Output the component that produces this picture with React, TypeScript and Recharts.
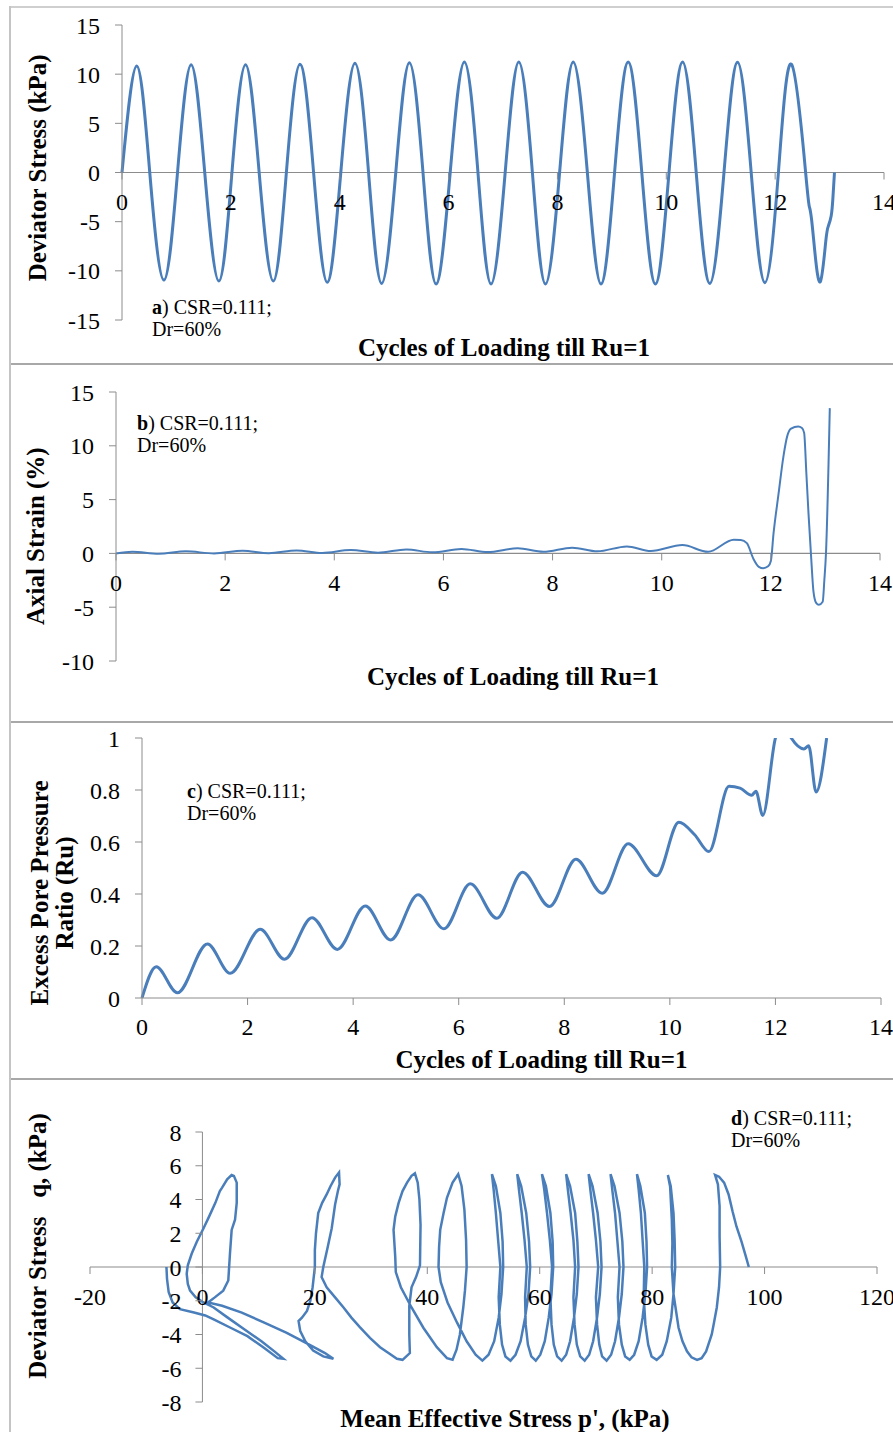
import React from 'react';
import { LineChart, Line, XAxis, YAxis, ReferenceLine, ReferenceDot } from 'recharts';

const FONT = '"Liberation Serif", "Times New Roman", serif';
const BLUE = '#4a7ebb';
const AXIS = '#8c8c8c';

// ---------- shared ticks ----------
const CYCLE_TICKS = [0, 2, 4, 6, 8, 10, 12, 14];
const A_Y_TICKS = [-15, -10, -5, 0, 5, 10, 15];
const B_Y_TICKS = [-10, -5, 0, 5, 10, 15];
const C_Y_TICKS = [0, 0.2, 0.4, 0.6, 0.8, 1];
const D_X_TICKS = [-20, 0, 20, 40, 60, 80, 100, 120];
const D_Y_TICKS = [-8, -6, -4, -2, 0, 2, 4, 6, 8];

// ---------- a) deviator stress vs cycles ----------
const A_CYCLES = [0, 0.27, 0.51, 0.77, 1.02, 1.27, 1.52, 1.78, 2.02, 2.27, 2.52, 2.78, 3.02, 3.27, 3.52, 3.77, 4.02, 4.28, 4.53, 4.77, 5.03, 5.28, 5.53, 5.77, 6.03, 6.29, 6.54, 6.78, 7.04, 7.29, 7.54, 7.78, 8.04, 8.29, 8.55, 8.8, 9.05, 9.3, 9.55, 9.8, 10.05, 10.3, 10.55, 10.8, 11.06, 11.31, 11.56, 11.81, 12.06, 12.3, 12.56, 12.63, 12.67, 12.73, 12.83, 12.93, 12.98, 13.03, 13.06, 13.09];
const A_DEVIATOR = [0, 10.84, 0, -10.94, 0, 10.97, 0, -11.04, 0, 10.97, 0, -11.04, 0, 11.0, 0, -11.17, 0, 11.1, 0, -11.28, 0, 11.17, 0, -11.34, 0, 11.24, 0, -11.34, 0, 11.24, 0, -11.34, 0, 11.24, 0, -11.34, 0, 11.24, 0, -11.34, 0, 11.24, 0, -11.28, 0, 11.2, 0, -11.2, 0, 11.0, 0, -3.5, -4.8, -8.1, -11.1, -7.0, -5.4, -4.4, -2.7, 0];

// ---------- b) axial strain vs cycles ----------
const B_CYCLES = [0, 0.3, 0.78, 1.28, 1.8, 2.32, 2.8, 3.31, 3.78, 4.3, 4.8, 5.32, 5.8, 6.33, 6.81, 7.36, 7.83, 8.36, 8.82, 9.36, 9.8, 10.38, 10.85, 11.32, 11.45, 11.56, 11.68, 11.78, 11.86, 11.95, 12.0, 12.05, 12.14, 12.23, 12.3, 12.37, 12.5, 12.57, 12.61, 12.65, 12.69, 12.74, 12.78, 12.83, 12.88, 12.95, 12.98, 13.01, 13.08];
const B_STRAIN = [0, 0.15, -0.03, 0.19, 0.0, 0.24, 0.02, 0.28, 0.04, 0.31, 0.07, 0.37, 0.1, 0.41, 0.12, 0.47, 0.15, 0.53, 0.19, 0.65, 0.22, 0.77, 0.15, 1.27, 1.25, 0.95, -0.5, -1.25, -1.38, -1.2, -0.7, 1.9, 5.5, 9.0, 10.9, 11.6, 11.8, 11.65, 11.2, 7.5, 3.7, -0.5, -3.5, -4.6, -4.78, -4.5, -2.5, 0, 13.5];

// ---------- c) excess pore pressure ratio vs cycles ----------
const C_CYCLES = [0, 0.27, 0.67, 1.24, 1.67, 2.24, 2.7, 3.22, 3.7, 4.23, 4.71, 5.23, 5.72, 6.22, 6.72, 7.21, 7.72, 8.22, 8.72, 9.21, 9.75, 10.17, 10.47, 10.74, 11.12, 11.33, 11.55, 11.63, 11.76, 12.0, 12.15, 12.3, 12.54, 12.63, 12.77, 12.97];
const C_RU = [0, 0.12, 0.02, 0.208, 0.095, 0.264, 0.149, 0.309, 0.187, 0.354, 0.223, 0.397, 0.266, 0.439, 0.307, 0.484, 0.352, 0.534, 0.403, 0.593, 0.47, 0.676, 0.628, 0.563, 0.814, 0.807, 0.78, 0.795, 0.702, 1.0, 1.06, 1.0, 0.958, 0.97, 0.792, 1.0];

// ---------- d) stress path q vs p' (in time order) ----------
const D_MEAN_P = [
  97.2, 96.6, 95.9, 95.0, 94.3, 93.6, 92.8, 91.9, 91.2,
  91.7, 92.0, 92.0, 92.1, 91.9, 91.5, 91.0, 90.6, 89.6, 88.8, 88.0, 87.0, 86.2, 85.4, 84.7, 83.8, 83.5, 83.6, 83.5, 83.2, 82.8,
  83.3, 83.8, 84.0, 84.1, 83.8, 83.4, 82.6, 81.8, 80.8, 79.9, 79.3, 78.8, 78.5, 78.6, 78.3, 78.0, 77.6, 77.3,
  77.9, 78.7, 79.0, 79.1, 78.8, 78.3, 77.6, 76.8, 76.0, 75.2, 74.6, 74.1, 73.9, 74.2, 73.8, 73.4, 72.9, 72.6,
  73.3, 74.2, 74.7, 74.9, 74.6, 74.1, 73.4, 72.7, 71.9, 71.1, 70.6, 70.2, 70.0, 70.4, 70.0, 69.5, 69.0, 68.7,
  69.4, 70.3, 70.8, 71.0, 70.7, 70.2, 69.5, 68.8, 68.0, 67.2, 66.6, 66.2, 66.0, 66.3, 66.0, 65.5, 65.0, 64.7,
  65.4, 66.3, 66.7, 66.9, 66.6, 66.1, 65.4, 64.7, 63.9, 63.1, 62.5, 62.1, 61.9, 62.2, 61.8, 61.3, 60.8, 60.4,
  61.1, 61.9, 62.3, 62.4, 62.1, 61.6, 60.9, 60.1, 59.3, 58.5, 57.9, 57.5, 57.4, 57.7, 57.3, 56.8, 56.3, 56.0,
  56.7, 57.6, 58.1, 58.3, 58.0, 57.4, 56.6, 55.7, 54.8, 53.9, 53.3, 52.9, 52.7, 53.0, 52.6, 52.2, 51.8, 51.5,
  52.2, 53.0, 53.4, 53.5, 53.2, 52.7, 51.9, 50.9, 49.8, 48.6, 47.0, 45.3, 43.6, 42.4, 42.0, 42.1, 42.3, 42.9, 43.5, 44.5, 45.5,
  46.1, 46.6, 46.9, 47.0, 46.7, 46.4, 45.8, 45.2, 44.5, 43.5, 41.7, 39.3, 37.2, 35.3, 34.4, 34.3, 34.0, 34.3, 34.9, 35.6, 36.4, 37.2, 37.8,
  38.3, 38.6, 38.8, 38.7, 38.0, 37.2, 36.8, 36.8, 36.8, 36.9, 35.6, 34.6, 33.1, 31.6, 29.8, 28.0, 26.5, 25.1, 23.6, 22.1, 21.2, 21.5, 22.3, 23.0, 23.6, 24.1, 24.4, 24.3,
  23.6, 22.8, 22.1, 21.3, 20.6, 20.2, 20.0, 20.0, 19.6, 19.2, 18.6, 17.7, 17.1, 17.4, 18.3, 19.7, 21.5, 23.3, 21.8, 19.0, 15.0, 11.0, 7.0, 3.5, 1.0, 2.2, 3.7, 4.6, 4.9, 5.2, 5.8, 6.1, 6.1, 5.6, 5.2,
  4.4, 3.5, 3.1, 2.3, 1.2, 0.2, -1.0, -1.9, -2.6, -2.8, -2.6, -2.2, -1.2, 0.2, 2.0, 4.5, 7.5, 10.5, 12.8, 14.4, 13.4, 11.0, 8.0, 5.0, 2.0, 0.5, -1.5, -4.0, -5.3, -6.0, -6.3, -6.4,
];
const D_DEVIATOR_Q = [
  0, 0.7, 1.5, 2.4, 3.3, 4.3, 5.0, 5.35, 5.45,
  4.9, 3.6, 1.8, 0, -1.2, -2.4, -3.3, -4.0, -5.0, -5.4, -5.5, -5.35, -5.0, -4.4, -3.6, -1.6, 0, 1.4, 2.8, 4.75, 5.45,
  4.8, 3.2, 1.6, 0, -1.6, -3.0, -4.4, -5.2, -5.5, -5.3, -4.6, -3.4, -1.8, 0, 1.6, 3.2, 4.6, 5.5,
  4.8, 3.2, 1.5, 0, -1.6, -3.0, -4.4, -5.2, -5.5, -5.3, -4.6, -3.4, -1.8, 0, 1.6, 3.2, 4.6, 5.5,
  4.8, 3.2, 1.5, 0, -1.6, -3.0, -4.4, -5.2, -5.55, -5.3, -4.6, -3.4, -1.8, 0, 1.6, 3.2, 4.6, 5.5,
  4.8, 3.2, 1.5, 0, -1.6, -3.0, -4.4, -5.2, -5.55, -5.3, -4.6, -3.4, -1.8, 0, 1.6, 3.2, 4.6, 5.5,
  4.8, 3.2, 1.5, 0, -1.6, -3.0, -4.4, -5.2, -5.55, -5.3, -4.6, -3.4, -1.8, 0, 1.6, 3.2, 4.6, 5.5,
  4.8, 3.2, 1.5, 0, -1.6, -3.0, -4.4, -5.2, -5.55, -5.3, -4.6, -3.4, -1.8, 0, 1.6, 3.2, 4.6, 5.5,
  4.8, 3.2, 1.5, 0, -1.6, -3.0, -4.4, -5.2, -5.55, -5.3, -4.6, -3.4, -1.8, 0, 1.6, 3.2, 4.6, 5.5,
  4.8, 3.2, 1.5, 0, -1.6, -3.0, -4.4, -5.2, -5.55, -5.2, -4.4, -3.3, -2.1, -0.9, 0, 1.2, 2.2, 3.2, 4.1, 5.0, 5.5,
  4.8, 3.4, 1.6, 0, -1.4, -2.4, -4.0, -4.9, -5.5, -5.4, -4.75, -3.6, -2.4, -1.2, -0.3, 0.6, 2.2, 3.0, 3.8, 4.5, 5.0, 5.4, 5.55,
  5.0, 4.0, 2.5, 0.1, -0.6, -1.2, -2.3, -3.2, -4.0, -5.1, -5.5, -5.44, -5.1, -4.75, -4.2, -3.56, -3.0, -2.4, -1.8, -1.2, -0.6, 0, 1.2, 2.3, 3.7, 4.5, 4.9, 5.6,
  5.3, 4.8, 4.3, 3.8, 3.2, 2.0, 1.0, 0, -1.2, -2.0, -2.6, -3.0, -3.2, -3.8, -4.4, -4.95, -5.3, -5.44, -5.1, -4.6, -3.9, -3.3, -2.7, -2.3, -2.1, -1.8, -1.4, -0.8, 0.8, 2.2, 2.8, 3.8, 5.0, 5.4, 5.45,
  5.2, 4.7, 4.5, 3.8, 3.0, 2.3, 1.5, 0.8, 0.1, -0.4, -1.0, -1.4, -1.8, -2.1, -2.4, -3.0, -3.7, -4.4, -5.0, -5.44, -5.4, -4.8, -4.1, -3.6, -3.1, -2.87, -2.7, -2.5, -2.1, -1.5, -0.7, 0,
];

const dataA = A_CYCLES.map((x, i) => ({ x, y: A_DEVIATOR[i] }));
const dataB = B_CYCLES.map((x, i) => ({ x, y: B_STRAIN[i] }));
const dataC = C_CYCLES.map((x, i) => ({ x, y: C_RU[i] }));
const dataD = D_MEAN_P.map((p, i) => ({ p, q: D_DEVIATOR_Q[i] }));

// ---------- label renderers ----------
const center = (vb: any) => ({
  cx: (vb?.x ?? 0) + (vb?.width ?? 0) / 2,
  cy: (vb?.y ?? 0) + (vb?.height ?? 0) / 2,
});

const xTick = (label: string) => (p: any) => {
  const { cx, cy } = center(p.viewBox);
  return (
    <g>
      <line x1={cx} y1={cy} x2={cx} y2={cy + 7} stroke={AXIS} strokeWidth={1} />
      <text x={cx} y={cy + 37.5} textAnchor="middle" fontSize={24} fontFamily={FONT} fill="#000">
        {label}
      </text>
    </g>
  );
};

const yTick = (label: string) => (p: any) => {
  const { cx, cy } = center(p.viewBox);
  return (
    <g>
      <line x1={cx - 7} y1={cy} x2={cx} y2={cy} stroke={AXIS} strokeWidth={1} />
      <text x={cx - 21} y={cy} dy="0.355em" textAnchor="end" fontSize={24} fontFamily={FONT} fill="#000">
        {label}
      </text>
    </g>
  );
};

const xTitle = (text: string, dx: number, dy: number) => (p: any) => {
  const vb = p.viewBox || {};
  return (
    <text
      x={vb.x + vb.width / 2 + dx}
      y={vb.y + dy}
      textAnchor="middle"
      fontSize={25}
      fontWeight="bold"
      fontFamily={FONT}
      fill="#000"
    >
      {text}
    </text>
  );
};

const yTitle = (lines: string[], xs: number[], dy: number) => (p: any) => {
  const vb = p.viewBox || {};
  const cy = vb.y + vb.height / 2 + dy;
  return (
    <g>
      {lines.map((t, i) => {
        const x = vb.x + xs[i];
        return (
          <text
            key={i}
            x={x}
            y={cy}
            transform={`rotate(-90, ${x}, ${cy})`}
            textAnchor="middle"
            fontSize={25}
            fontWeight="bold"
            fontFamily={FONT}
            fill="#000"
            style={{ whiteSpace: 'pre' }}
          >
            {t}
          </text>
        );
      })}
    </g>
  );
};

const tickStyle = { fill: '#000', fontSize: 24, fontFamily: FONT };

const Note = ({ letter, left, top }: { letter: string; left: number; top: number }) => (
  <div
    style={{
      position: 'absolute',
      left,
      top,
      fontFamily: FONT,
      fontSize: 20,
      lineHeight: '22px',
      color: '#000',
      whiteSpace: 'nowrap',
    }}
  >
    <b>{letter}</b>) CSR=0.111;
    <br />
    Dr=60%
  </div>
);

const hLine = (top: number, color: string) => (
  <div style={{ position: 'absolute', left: 9, top, width: 884, height: 2, background: color }} />
);

export default function App() {
  return (
    <div
      style={{
        position: 'absolute',
        left: 0,
        top: 0,
        width: 893,
        height: 1432,
        overflow: 'hidden',
        background: '#fff',
      }}
    >
      {hLine(6, '#cfcfcf')}
      {hLine(363, '#a8a8a8')}
      {hLine(721, '#a8a8a8')}
      {hLine(1078, '#a8a8a8')}
      <div style={{ position: 'absolute', left: 9, top: 6, width: 2, height: 1426, background: '#c4c4c4' }} />

      {/* Panel a */}
      <div style={{ position: 'absolute', left: 0, top: 7 }}>
        <LineChart width={893} height={357} data={dataA} margin={{ top: 18, right: 9, bottom: 0, left: 0 }}>
          <XAxis
            type="number"
            dataKey="x"
            domain={[0, 14]}
            ticks={CYCLE_TICKS}
            axisLine={false}
            tickLine={false}
            tick={false}
            height={44}
            label={{ content: xTitle('Cycles of Loading till Ru=1', 1, 36) }}
          />
          <YAxis
            type="number"
            domain={[-15, 15]}
            ticks={A_Y_TICKS}
            width={122}
            axisLine={{ stroke: AXIS }}
            tickLine={{ stroke: AXIS }}
            tickSize={7}
            tickMargin={15}
            tick={tickStyle}
            label={{ content: yTitle(['Deviator Stress (kPa)'], [46], -4.6) }}
          />
          <ReferenceLine y={0} stroke={AXIS} strokeWidth={1.2} />
          {CYCLE_TICKS.map((v) => (
            <ReferenceDot key={v} x={v} y={0} r={1} fill="none" stroke="none" label={{ content: xTick(String(v)) }} />
          ))}
          <Line type="natural" dataKey="y" stroke={BLUE} strokeWidth={3} dot={false} isAnimationActive={false} />
        </LineChart>
      </div>

      {/* Panel b */}
      <div style={{ position: 'absolute', left: 0, top: 364 }}>
        <LineChart width={893} height={358} data={dataB} margin={{ top: 28, right: 13, bottom: 0, left: 0 }}>
          <XAxis
            type="number"
            dataKey="x"
            domain={[0, 14]}
            ticks={CYCLE_TICKS}
            axisLine={false}
            tickLine={false}
            tick={false}
            height={61}
            label={{ content: xTitle('Cycles of Loading till Ru=1', 15, 24) }}
          />
          <YAxis
            type="number"
            domain={[-10, 15]}
            ticks={B_Y_TICKS}
            width={116}
            axisLine={{ stroke: AXIS }}
            tickLine={{ stroke: AXIS }}
            tickSize={7}
            tickMargin={15}
            tick={tickStyle}
            label={{ content: yTitle(['Axial Strain (%)'], [44], 9.7) }}
          />
          <ReferenceLine y={0} stroke={AXIS} strokeWidth={1.2} />
          {CYCLE_TICKS.map((v) => (
            <ReferenceDot key={v} x={v} y={0} r={1} fill="none" stroke="none" label={{ content: xTick(String(v)) }} />
          ))}
          <Line type="monotone" dataKey="y" stroke={BLUE} strokeWidth={2} dot={false} isAnimationActive={false} />
        </LineChart>
      </div>

      {/* Panel c */}
      <div style={{ position: 'absolute', left: 0, top: 722 }}>
        <LineChart width={893} height={357} data={dataC} margin={{ top: 16, right: 12, bottom: 0, left: 0 }}>
          <XAxis
            type="number"
            dataKey="x"
            domain={[0, 14]}
            ticks={CYCLE_TICKS}
            axisLine={{ stroke: AXIS }}
            tickLine={{ stroke: AXIS }}
            tickSize={7}
            tickMargin={13}
            tick={tickStyle}
            height={81}
            label={{ content: xTitle('Cycles of Loading till Ru=1', 30, 70) }}
          />
          <YAxis
            type="number"
            domain={[0, 1]}
            allowDataOverflow
            ticks={C_Y_TICKS}
            width={142}
            axisLine={{ stroke: AXIS }}
            tickLine={{ stroke: AXIS }}
            tickSize={7}
            tickMargin={15}
            tick={tickStyle}
            label={{ content: yTitle(['Excess Pore Pressure', 'Ratio (Ru)'], [48, 72.5], 25) }}
          />
          <Line type="monotone" dataKey="y" stroke={BLUE} strokeWidth={3} dot={false} isAnimationActive={false} />
        </LineChart>
      </div>

      {/* Panel d */}
      <div style={{ position: 'absolute', left: 0, top: 1079 }}>
        <LineChart width={893} height={353} data={dataD} margin={{ top: 53, right: 16, bottom: 0, left: 0 }}>
          <XAxis
            type="number"
            dataKey="p"
            domain={[-20, 120]}
            ticks={D_X_TICKS}
            axisLine={false}
            tickLine={false}
            tick={false}
            height={30}
            label={{ content: xTitle("Mean Effective Stress p', (kPa)", 21.5, 24.5) }}
          />
          <YAxis
            type="number"
            domain={[-8, 8]}
            ticks={D_Y_TICKS}
            width={90}
            axisLine={false}
            tickLine={false}
            tick={false}
            label={{ content: yTitle(['Deviator Stress   q, (kPa)'], [46], -21) }}
          />
          <ReferenceLine y={0} stroke={AXIS} strokeWidth={1.2} />
          <ReferenceLine x={0} stroke={AXIS} strokeWidth={1} />
          {D_X_TICKS.map((v) => (
            <ReferenceDot key={'x' + v} x={v} y={0} r={1} fill="none" stroke="none" label={{ content: xTick(String(v)) }} />
          ))}
          {D_Y_TICKS.map((v) => (
            <ReferenceDot key={'y' + v} x={0} y={v} r={1} fill="none" stroke="none" label={{ content: yTick(String(v)) }} />
          ))}
          <Line type="linear" dataKey="q" stroke={BLUE} strokeWidth={2.5} dot={false} isAnimationActive={false} />
        </LineChart>
      </div>

      <Note letter="a" left={152} top={296} />
      <Note letter="b" left={137} top={412} />
      <Note letter="c" left={187} top={780} />
      <Note letter="d" left={731} top={1107} />
    </div>
  );
}
